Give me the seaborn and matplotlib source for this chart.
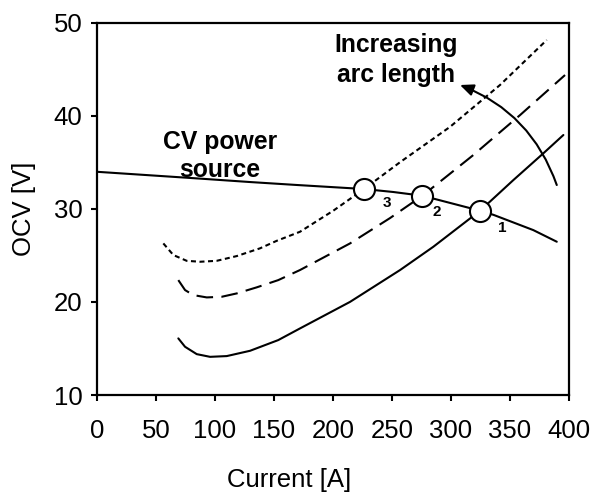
import matplotlib
matplotlib.use("Agg")
import matplotlib.pyplot as plt
import seaborn as sns

# ---- data ----
# arc characteristic 1 (solid)
arc1_I = [68.9, 74.6, 84.5, 95.8, 109.9, 129.7, 153.6, 172.0, 214.4, 256.8, 285.0, 324.6, 352.8, 378.2, 395.2]
arc1_V = [16.08, 15.18, 14.39, 14.10, 14.18, 14.75, 15.90, 17.15, 20.0, 23.42, 25.92, 29.79, 33.08, 35.95, 37.92]

# arc characteristic 2 (dashed)
arc2_I = [68.9, 74.6, 81.6, 93.0, 105.7, 118.4, 135.3, 153.6, 172.0, 214.4, 248.3, 275.7, 297.7, 318.9, 338.7, 358.5, 396.6]
arc2_V = [22.34, 21.27, 20.73, 20.48, 20.55, 20.91, 21.56, 22.34, 23.42, 26.28, 29.0, 31.40, 33.62, 35.77, 37.92, 40.06, 44.36]

# arc characteristic 3 (dotted)
arc3_I = [56.2, 64.7, 76.0, 87.3, 101.4, 118.4, 138.1, 152.3, 172.0, 200.3, 226.3, 256.8, 299.2, 341.5, 381.1]
arc3_V = [26.28, 25.03, 24.41, 24.31, 24.41, 24.92, 25.75, 26.56, 27.53, 29.8, 32.12, 35.0, 38.8, 43.29, 48.12]

# CV power source characteristic
cv_I = [0, 83.6, 129.7, 169.7, 226.3, 251.1, 275.7, 324.6, 335.9, 369.7, 389.6]
cv_V = [33.97, 33.27, 32.87, 32.55, 32.12, 31.8, 31.40, 29.79, 29.35, 27.71, 26.46]

# operating points
op_I = [324.6, 275.7, 226.3]
op_V = [29.79, 31.40, 32.12]
op_labels = ["1", "2", "3"]
op_label_I = [343.0, 287.9, 245.5]
op_label_V = [27.9, 29.68, 30.58]

x_ticks = [0, 50, 100, 150, 200, 250, 300, 350, 400]
y_ticks = [10, 20, 30, 40, 50]

sns.set_style("ticks")
plt.rcParams["font.family"] = ["Liberation Sans", "DejaVu Sans"]
plt.rcParams["text.color"] = "black"
plt.rcParams["axes.labelcolor"] = "black"
plt.rcParams["xtick.color"] = "black"
plt.rcParams["ytick.color"] = "black"

fig = plt.figure(figsize=(5.93, 4.97), dpi=100)
ax = fig.add_axes([0.1636, 0.2052, 0.796, 0.7495])

lw = 1.5
sns.lineplot(x=arc1_I, y=arc1_V, ax=ax, color="black", lw=lw, sort=False)
sns.lineplot(x=arc2_I, y=arc2_V, ax=ax, color="black", lw=lw, sort=False,
             linestyle=(0, (8, 4)))
sns.lineplot(x=arc3_I, y=arc3_V, ax=ax, color="black", lw=lw, sort=False,
             linestyle=(0, (2.4, 1.7)))
sns.lineplot(x=cv_I, y=cv_V, ax=ax, color="black", lw=lw, sort=False)

sns.scatterplot(x=op_I, y=op_V, ax=ax, s=230, facecolor="white",
                edgecolor="black", linewidth=1.5, zorder=5)
for lab, xi, yi in zip(op_labels, op_label_I, op_label_V):
    ax.text(xi, yi, lab, fontsize=11, fontweight="bold", ha="center", va="center")

ax.text(253.1, 45.97, "Increasing\narc length", fontsize=17.8, fontweight="bold",
        ha="center", va="center", linespacing=1.28)
ax.text(104.2, 35.68, "CV power\nsource", fontsize=17.8, fontweight="bold",
        ha="center", va="center", linespacing=1.2)

ax.annotate("", xy=(307.6, 43.29), xytext=(389.6, 32.55),
            arrowprops=dict(arrowstyle="-|>,head_length=0.8,head_width=0.35",
                            color="black", lw=1.5,
                            connectionstyle="arc3,rad=0.23", shrinkA=0, shrinkB=0))

ax.set_xlim(0, 400)
ax.set_ylim(10, 50)
ax.set_xticks(x_ticks)
ax.set_yticks(y_ticks)
ax.tick_params(direction="out", length=4.5, width=1.5, labelsize=18.5, colors="black")
ax.tick_params(axis="x", pad=12.5)
ax.tick_params(axis="y", pad=6)
for s in ax.spines.values():
    s.set_linewidth(1.6)
    s.set_color("black")
ax.set_xlabel("Current [A]", fontsize=18.5)
ax.set_ylabel("OCV [V]", fontsize=18.5)
ax.xaxis.set_label_coords(0.407, -0.197)
ax.yaxis.set_label_coords(-0.13, 0.5)

fig.savefig("out.png", dpi=100)
